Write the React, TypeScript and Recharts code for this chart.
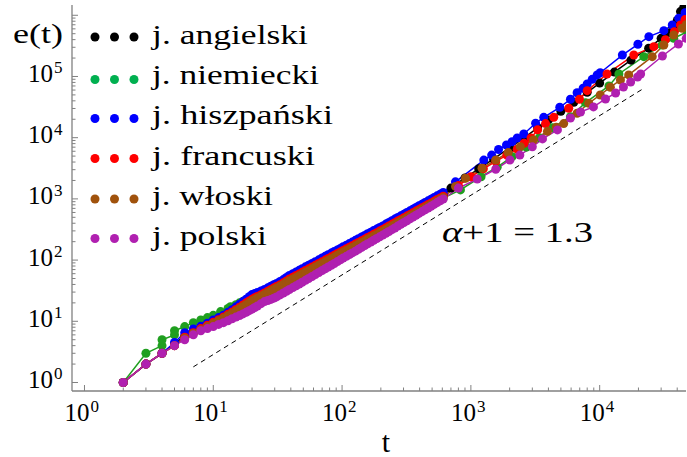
import React from "react";
import { ComposedChart, Line, XAxis, YAxis, Customized } from "recharts";

// e(t) vs t, log-log, for six languages
const FONT = "Liberation Serif";
const FRAME = "#808080";

const xTicks = [
  1, 2, 3, 4, 5, 6, 7, 8, 9,
  10, 20, 30, 40, 50, 60, 70, 80, 90,
  100, 200, 300, 400, 500, 600, 700, 800, 900,
  1000, 2000, 3000, 4000, 5000, 6000, 7000, 8000, 9000,
  10000, 20000, 30000, 40000,
];
const yTicks = [
  1, 2, 3, 4, 5, 6, 7, 8, 9,
  10, 20, 30, 40, 50, 60, 70, 80, 90,
  100, 200, 300, 400, 500, 600, 700, 800, 900,
  1000, 2000, 3000, 4000, 5000, 6000, 7000, 8000, 9000,
  10000, 20000, 30000, 40000, 50000, 60000, 70000, 80000, 90000,
  100000, 200000, 300000, 400000, 500000, 600000, 700000, 800000, 900000,
  1000000,
];

const seriesNames = [
  "j. angielski",
  "j. niemiecki",
  "j. hiszpański",
  "j. francuski",
  "j. włoski",
  "j. polski",
];
const lineColors = ["#000000", "#1f9f1f", "#0000ff", "#ff0000", "#a0520c", "#b020b0"];
const legendColors = ["#000000", "#00b050", "#0000ff", "#ff0000", "#a0520c", "#b020b0"];

// [t, e(t)]
const angielski: [number, number][] = [
  [2, 1], [3, 2], [4, 3], [5, 4.3], [6, 5.7], [7, 6.8], [8, 7.9], [9, 8.9], [10, 9.9],
  [11, 11], [12, 12.2], [14, 14.8], [16, 17.8], [18, 21], [20, 24], [22, 26.5], [25, 30.5],
  [28, 34.5], [31, 38.5], [35, 44], [39, 50.5], [44, 58], [49, 65], [55, 74], [62, 85],
  [70, 97], [78, 110], [87, 124], [97, 140], [108, 158], [120, 178], [134, 200], [150, 227],
  [167, 256], [186, 289], [207, 326], [231, 370], [257, 419], [286, 474], [319, 537],
  [355, 607], [396, 687], [441, 778], [491, 880], [547, 998], [610, 1130],
  [700, 1500], [900, 2200], [1150, 3100], [1500, 4500], [2000, 6800], [2600, 10000],
  [3300, 14500], [4000, 19500], [5000, 27000], [6300, 38000], [8000, 55000], [10000, 78000],
  [13000, 118000], [17500, 185000], [24000, 290000], [30000, 420000], [33300, 507000],
  [37000, 620000], [40000, 820000], [42400, 1150000], [45000, 1350000],
];
const angielskiMid: [number, number][] = [
  [13, 13.5], [15, 16.3], [17, 19.4], [19, 22.5], [21, 25.2], [23.5, 28.5], [26.5, 32.5],
  [29.5, 36.5], [33, 41.2], [37, 47.2], [41.5, 54], [46.5, 61.5], [52, 69.5], [58.5, 79.5],
  [66, 91], [74, 103.5], [82.5, 117], [92, 132], [102, 149], [114, 168], [127, 189],
  [142, 213], [158, 241], [176, 272], [196, 307], [219, 348], [244, 394], [271, 446],
  [302, 505], [337, 572], [375, 647], [418, 732], [466, 829], [519, 939], [578, 1064],
];

const niemiecki: [number, number][] = [
  [2, 1], [3, 3], [4, 4], [4, 5], [5, 6], [5, 7], [6, 8.2], [7, 9.5], [8, 10.5], [9, 11.5],
  [10, 12.5], [11.4, 14.4], [13.6, 17.3], [16, 20], [18, 22.5], [20, 25], [22, 27], [25, 31],
  [28, 35], [31, 39], [35, 45], [39, 51], [44, 58], [49, 65], [55, 74], [62, 84], [70, 96],
  [78, 108], [87, 122], [97, 138], [108, 155], [120, 174], [134, 196], [150, 222], [167, 250],
  [186, 282], [207, 318], [231, 360], [257, 405], [286, 455], [319, 512], [355, 575],
  [396, 648], [441, 728], [491, 818], [547, 920], [610, 1035],
  [830, 1400], [1200, 2300], [1600, 3300], [2090, 4900], [2700, 7000], [3400, 10000],
  [4300, 14500], [5930, 22000], [7760, 37300], [11800, 70000], [14100, 110000],
  [22000, 211000], [30600, 327000], [37600, 421000], [48000, 540000],
];
const niemieckiMid: [number, number][] = [
  [13, 16.2], [15, 18.7], [17, 21.2], [19, 23.7], [21, 26], [23.5, 29], [26.5, 33],
  [29.5, 37], [33, 42], [37, 48], [41.5, 54.5], [46.5, 61.5], [52, 69.5], [58.5, 79],
  [66, 90], [74, 102], [82.5, 115], [92, 130], [102, 146], [114, 164], [127, 185],
  [142, 209], [158, 236], [176, 266], [196, 300], [219, 339], [244, 382], [271, 430],
  [302, 483], [337, 543], [375, 611], [418, 688], [466, 773], [519, 869], [578, 977],
];

const hiszpanski: [number, number][] = [
  [2, 1], [3, 2], [4, 3], [5, 4.5], [6, 6.5], [7, 7.5], [8, 8.3], [9, 9.3], [10, 10.5],
  [11, 11.5], [12, 12.6], [14, 15.5], [16, 19], [18, 23], [20, 27.5], [22, 29.5], [25, 33],
  [28, 37.5], [31, 41.5], [35, 48], [39, 56], [44, 64], [49, 72.5], [55, 82.5], [62, 94],
  [70, 108], [78, 122], [87, 138], [97, 155], [108, 175], [120, 197], [134, 223], [150, 253],
  [167, 285], [186, 321], [207, 362], [231, 413], [257, 467], [286, 528], [319, 600],
  [355, 679], [396, 771], [441, 873], [491, 989], [547, 1122], [610, 1272],
  [759, 1900], [1260, 4300], [1450, 5200], [1640, 6400], [1890, 7600], [2090, 8600],
  [2290, 9900], [2575, 11500], [3180, 17200], [3680, 21500], [4900, 31400], [5930, 42400],
  [6680, 54300], [7440, 64100], [8000, 75400], [8750, 89900], [9560, 106000],
  [10100, 115000], [15000, 224000], [19800, 336000], [24100, 447000], [31500, 560000],
  [36600, 693000], [41100, 893000], [46000, 1100000],
];
const hiszpanskiMid: [number, number][] = [
  [13, 14], [15, 17.2], [17, 21], [19, 25.2], [21, 28.5], [23.5, 31.2], [26.5, 35.2],
  [29.5, 39.5], [33, 44.8], [37, 52], [41.5, 60], [46.5, 68], [52, 77.5], [58.5, 88],
  [66, 101], [74, 115], [82.5, 130], [92, 146], [102, 165], [114, 186], [127, 210],
  [142, 238], [158, 269], [176, 303], [196, 341], [219, 387], [244, 440], [271, 497],
  [302, 563], [337, 638], [375, 724], [418, 821], [466, 929], [519, 1054], [578, 1195],
];

const francuski: [number, number][] = [
  [2, 1], [3, 2], [4, 3], [5, 4], [6, 5.5], [7, 6.5], [8, 7.6], [9, 8.6], [10, 9.6],
  [11, 10.6], [12, 11.8], [14, 14.2], [16, 17], [18, 20], [20, 23], [22, 25.5], [25, 29],
  [28, 33], [31, 37], [35, 42.5], [39, 49], [44, 56], [49, 63], [55, 72], [62, 82], [70, 94],
  [78, 106], [87, 120], [97, 136], [108, 153], [120, 172], [134, 194], [150, 220], [167, 248],
  [186, 280], [207, 316], [231, 360], [257, 408], [286, 462], [319, 524], [355, 592],
  [396, 670], [441, 760], [491, 860], [547, 975], [610, 1105],
  [800, 1650], [1000, 2300], [1250, 3100], [1560, 4100], [1900, 5200], [2290, 6500],
  [2590, 8100], [2930, 9900], [3300, 13500], [3800, 17000], [4400, 21500], [5750, 30200],
  [6970, 42400], [8000, 58600], [11400, 110000], [18400, 224000], [26300, 307000],
  [32400, 400000], [38000, 540000], [42400, 693000], [46000, 850000],
];
const francuskiMid: [number, number][] = [
  [13, 13], [15, 15.6], [17, 18.5], [19, 21.5], [21, 24.2], [23.5, 27.2], [26.5, 31],
  [29.5, 35], [33, 39.7], [37, 45.7], [41.5, 52.5], [46.5, 59.5], [52, 67.5], [58.5, 77],
  [66, 88], [74, 100], [82.5, 113], [92, 128], [102, 144], [114, 162], [127, 183],
  [142, 207], [158, 234], [176, 264], [196, 298], [219, 338], [244, 384], [271, 435],
  [302, 493], [337, 558], [375, 631], [418, 715], [466, 810], [519, 917], [578, 1038],
];

const wloski: [number, number][] = [
  [2, 1], [3, 2], [4, 3], [5, 4], [6, 5.3], [7, 6.3], [8, 7.3], [9, 8.2], [10, 9.2],
  [11, 10.2], [12, 11.2], [14, 13.5], [16, 16], [18, 18.7], [20, 21.5], [22, 24], [25, 27.5],
  [28, 31], [31, 35], [35, 40], [39, 46], [44, 52], [49, 59], [55, 67], [62, 77], [70, 88],
  [78, 99], [87, 112], [97, 127], [108, 143], [120, 161], [134, 182], [150, 206], [167, 232],
  [186, 262], [207, 296], [231, 337], [257, 382], [286, 433], [319, 492], [355, 557],
  [396, 633], [441, 718], [491, 815], [547, 925], [610, 1050],
  [760, 1600], [908, 2170], [1220, 3170], [1560, 4320], [1950, 5700], [2420, 7130],
  [3060, 9170], [3930, 12700], [4600, 14800], [5260, 17000], [6680, 25100], [8230, 36500],
  [10100, 49900], [12100, 66700], [14500, 87700], [16800, 106000], [25600, 211000],
  [31500, 327000], [37600, 477000], [43700, 614000], [47000, 700000],
];
const wloskiMid: [number, number][] = [
  [13, 12.3], [15, 14.7], [17, 17.3], [19, 20.1], [21, 22.7], [23.5, 25.7], [26.5, 29.2],
  [29.5, 33], [33, 37.5], [37, 43], [41.5, 49], [46.5, 55.5], [52, 63], [58.5, 72],
  [66, 82.5], [74, 93.5], [82.5, 105.5], [92, 119.5], [102, 135], [114, 152], [127, 171],
  [142, 194], [158, 219], [176, 247], [196, 279], [219, 316], [244, 359], [271, 407],
  [302, 462], [337, 524], [375, 595], [418, 675], [466, 766], [519, 868], [578, 987],
];

const polski: [number, number][] = [
  [2, 1], [3, 2], [4, 3], [5, 4], [6, 5], [7, 6], [8, 7], [9, 7.6], [10, 8.2], [11, 8.9],
  [12, 9.5], [14, 11], [16, 12.4], [18, 14], [20, 15.8], [22, 17.8], [25, 21], [28, 22.8],
  [31, 25], [35, 29], [39, 33], [44, 38], [49, 43.5], [55, 50], [62, 58], [70, 67.5],
  [78, 77], [87, 88], [97, 101], [108, 115], [120, 131], [134, 150], [150, 173], [167, 197],
  [186, 225], [207, 256], [231, 293], [257, 335], [286, 384], [319, 440], [355, 504],
  [396, 579], [441, 662], [491, 758], [547, 869], [610, 996],
  [800, 1500], [1120, 2110], [1560, 3050], [2010, 4320], [2400, 5200], [3000, 7080],
  [3600, 9550], [4700, 13400], [5930, 21000], [7100, 26300], [8950, 31800], [11100, 42900],
  [13300, 53700], [15300, 67300], [17400, 81300], [19700, 98200], [20800, 110000],
  [30700, 216000], [40900, 340000], [47000, 420000],
];
const polskiMid: [number, number][] = [
  [13, 10.2], [15, 11.7], [17, 13.2], [19, 14.9], [21, 16.8], [23.5, 19.4], [26.5, 21.9],
  [29.5, 23.9], [33, 27], [37, 31], [41.5, 35.5], [46.5, 40.7], [52, 46.7], [58.5, 54],
  [66, 62.7], [74, 72.2], [82.5, 82.5], [92, 94.5], [102, 108], [114, 123], [127, 140],
  [142, 161], [158, 185], [176, 211], [196, 240], [219, 274], [244, 314], [271, 359],
  [302, 412], [337, 472], [375, 541], [418, 620], [466, 710], [519, 813], [578, 932],
];

const allSeries = [
  [angielski, angielskiMid],
  [niemiecki, niemieckiMid],
  [hiszpanski, hiszpanskiMid],
  [francuski, francuskiMid],
  [wloski, wloskiMid],
  [polski, polskiMid],
];

// slope 1.3 guide
const guide: [number, number][] = [[7, 1.8], [22000, 64000]];

const legendDotX = [95, 114.5, 134];
const legendDotY = [37, 79.5, 118.5, 158.5, 199, 238.5];
const legendBase = [43.5, 84, 124, 164.5, 205, 245];
const legendWidth = [156, 167, 181, 163, 121, 115];

const toRows = (...parts: [number, number][][]) =>
  parts
    .flat()
    .sort((a, b) => a[0] - b[0])
    .map(([t, e]) => ({ t, e }));

function decade(v: number): number | null {
  const l = Math.log10(v);
  const k = Math.round(l);
  return Math.abs(l - k) < 1e-6 ? k : null;
}

const txt = { fontFamily: FONT, fill: "#000" };

function BottomTick(props: any) {
  const { x, y, payload } = props;
  const k = decade(payload.value);
  return (
    <g>
      <line x1={x} x2={x} y1={y} y2={y - (k !== null ? 6 : 3.5)} stroke={FRAME} strokeWidth={1} />
      {k !== null && (
        <g>
          <text x={x + 5} y={421} textAnchor="end" fontFamily={FONT} style={{ ...txt, fontSize: 25 }}>10</text>
          <text x={x + 6} y={412} fontFamily={FONT} style={{ ...txt, fontSize: 17 }}>{k}</text>
        </g>
      )}
    </g>
  );
}

function TopTick(props: any) {
  const { x, y, payload } = props;
  const k = decade(payload.value);
  return <line x1={x} x2={x} y1={y} y2={y + (k !== null ? 6 : 3.5)} stroke={FRAME} strokeWidth={1} />;
}

function LeftTick(props: any) {
  const { x, y, payload } = props;
  const k = decade(payload.value);
  return (
    <g>
      <line x1={x} x2={x + (k !== null ? 6 : 3.5)} y1={y} y2={y} stroke={FRAME} strokeWidth={1} />
      {k !== null && k <= 5 && (
        <g>
          <text x={x - 19} y={y + 5.5} textAnchor="end" fontFamily={FONT} style={{ ...txt, fontSize: 25 }}>10</text>
          <text x={x - 18} y={y - 3} fontFamily={FONT} style={{ ...txt, fontSize: 17 }}>{k}</text>
        </g>
      )}
    </g>
  );
}

function RightTick(props: any) {
  const { x, y, payload } = props;
  const k = decade(payload.value);
  return <line x1={x} x2={x - (k !== null ? 6 : 3.5)} y1={y} y2={y} stroke={FRAME} strokeWidth={1} />;
}

function Overlay() {
  return (
    <g fontFamily={FONT}>
      <text x={13} y={43} style={{ ...txt, fontSize: 27 }} textLength={50} lengthAdjust="spacingAndGlyphs">
        e(t)
      </text>
      {seriesNames.map((name, i) => (
        <g key={name}>
          {legendDotX.map((cx) => (
            <circle key={cx} cx={cx} cy={legendDotY[i]} r={4.5} fill={legendColors[i]} />
          ))}
          <text
            x={152}
            y={legendBase[i]}
            style={{ ...txt, fontSize: 27 }}
            textLength={legendWidth[i]}
            lengthAdjust="spacingAndGlyphs"
          >
            {name}
          </text>
        </g>
      ))}
      <text x={386} y={452} textAnchor="middle" style={{ ...txt, fontSize: 30 }}>t</text>
      <text x={442} y={242} style={{ ...txt, fontSize: 29 }} textLength={151} lengthAdjust="spacingAndGlyphs">
        <tspan fontStyle="italic">α</tspan>+1 = 1.3
      </text>
    </g>
  );
}

export default function App() {
  return (
    <div style={{ position: "absolute", left: 0, top: 0, background: "#fff" }}>
      <ComposedChart width={687} height={457} margin={{ top: 5, right: 1, bottom: 0, left: 0 }}>
        <XAxis
          dataKey="t"
          type="number"
          scale="log"
          domain={[0.8, 46800]}
          allowDataOverflow
          ticks={xTicks}
          interval={0}
          height={66}
          tickSize={0}
          tickMargin={0}
          tickLine={false}
          axisLine={{ stroke: FRAME, strokeWidth: 1.3 }}
          tick={<BottomTick />}
        />
        <XAxis
          xAxisId="top"
          orientation="top"
          dataKey="t"
          type="number"
          scale="log"
          domain={[0.8, 46800]}
          allowDataOverflow
          ticks={xTicks}
          interval={0}
          height={0}
          tickSize={0}
          tickMargin={0}
          tickLine={false}
          axisLine={{ stroke: FRAME, strokeWidth: 1.3 }}
          tick={<TopTick />}
        />
        <YAxis
          dataKey="e"
          type="number"
          scale="log"
          domain={[0.726, 1472000]}
          allowDataOverflow
          ticks={yTicks}
          interval={0}
          width={72}
          tickSize={0}
          tickMargin={0}
          tickLine={false}
          axisLine={{ stroke: FRAME, strokeWidth: 1.3 }}
          tick={<LeftTick />}
        />
        <YAxis
          yAxisId="right"
          orientation="right"
          dataKey="e"
          type="number"
          scale="log"
          domain={[0.726, 1472000]}
          allowDataOverflow
          ticks={yTicks}
          interval={0}
          width={0}
          tickSize={0}
          tickMargin={0}
          tickLine={false}
          axisLine={{ stroke: FRAME, strokeWidth: 1.3 }}
          tick={<RightTick />}
        />
        <Line
          data={toRows(guide)}
          dataKey="e"
          type="linear"
          stroke="#000"
          strokeWidth={1}
          strokeDasharray="5 4"
          dot={false}
          isAnimationActive={false}
        />
        {allSeries.map((parts, i) => (
          <Line
            key={seriesNames[i]}
            name={seriesNames[i]}
            data={toRows(...parts)}
            dataKey="e"
            type="linear"
            stroke={lineColors[i]}
            strokeWidth={1.5}
            dot={{ r: 4.5, fill: lineColors[i], stroke: "none" }}
            activeDot={false}
            isAnimationActive={false}
          />
        ))}
        <Customized component={Overlay} />
      </ComposedChart>
    </div>
  );
}
